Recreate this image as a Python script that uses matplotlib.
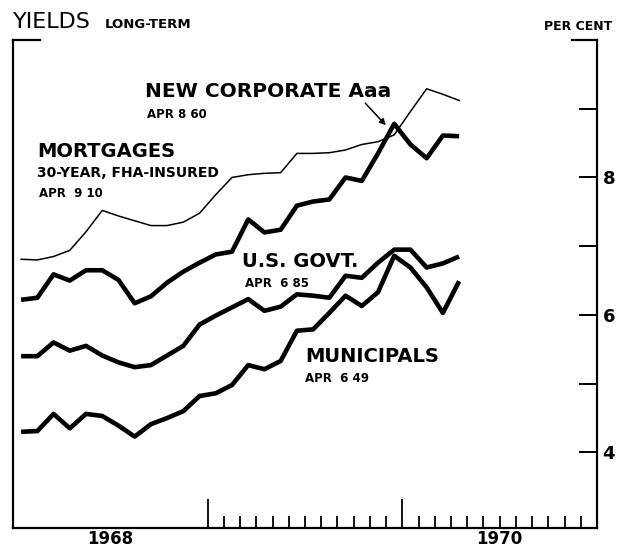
"""
Long-term yields, Jan 1968 - Apr 1970 (monthly)
"""
import numpy as np
import matplotlib
matplotlib.use('Agg')
import matplotlib.pyplot as plt

# ============================================================================
# DATA (per cent, monthly Jan 1968 .. Apr 1970)
# ============================================================================
mortgage = [6.81, 6.80, 6.85, 6.94, 7.21, 7.52, 7.44, 7.37, 7.30, 7.30, 7.35, 7.48,
            7.75, 8.00, 8.04, 8.06, 8.07, 8.35, 8.35, 8.36, 8.40, 8.48, 8.52, 8.62,
            8.96, 9.29, 9.21, 9.12]
corporate = [6.22, 6.25, 6.59, 6.50, 6.65, 6.65, 6.51, 6.17, 6.27, 6.47, 6.63, 6.76,
             6.88, 6.92, 7.39, 7.20, 7.24, 7.59, 7.65, 7.68, 8.00, 7.95, 8.35, 8.78,
             8.48, 8.28, 8.61, 8.60]
govt = [5.40, 5.40, 5.60, 5.48, 5.55, 5.41, 5.31, 5.24, 5.27, 5.41, 5.55, 5.86,
        5.99, 6.11, 6.23, 6.06, 6.12, 6.30, 6.28, 6.25, 6.57, 6.54, 6.76, 6.95,
        6.95, 6.69, 6.75, 6.85]
municipals = [4.30, 4.31, 4.56, 4.35, 4.56, 4.53, 4.39, 4.23, 4.41, 4.50, 4.60, 4.82,
              4.86, 4.98, 5.27, 5.21, 5.33, 5.77, 5.79, 6.03, 6.28, 6.13, 6.33, 6.86,
              6.69, 6.40, 6.03, 6.49]
years = ['1968', '1970']
year_pos = [5.5, 29.5]          # centre of each year span (months)
yticks = [4, 5, 6, 7, 8, 9]
ytick_labels = ['4', '', '6', '', '8', '']

months = np.arange(len(mortgage))

# ============================================================================
# FIGURE
# ============================================================================
fig = plt.figure(figsize=(6.29, 5.47), dpi=100)
ax = fig.add_axes([13 / 629, 1 - 528 / 547, 584 / 629, 488 / 547])
ax.set_xlim(-0.5, 35.5)
ax.set_ylim(2.9, 10.0)

ax.plot(months, mortgage, color='black', lw=1.1, solid_joinstyle='round')
for series in (corporate, govt, municipals):
    ax.plot(months, series, color='black', lw=3.3, solid_joinstyle='round',
            solid_capstyle='butt')

# spines / brackets
ax.spines['top'].set_visible(False)
for s in ('left', 'right', 'bottom'):
    ax.spines[s].set_linewidth(1.6)
ax.plot([0, 0.046], [1, 1], transform=ax.transAxes, color='black', lw=1.6, clip_on=False)
ax.plot([0.957, 1], [1, 1], transform=ax.transAxes, color='black', lw=1.6, clip_on=False)

# y axis on the right, inward ticks
ax.yaxis.tick_right()
ax.set_yticks(yticks)
ax.set_yticklabels(ytick_labels, fontsize=13, fontweight='bold')
ax.tick_params(axis='y', direction='in', length=13, width=1.4, pad=4)

# x axis: month ticks from 1969 on, longer at year starts
ax.set_xticks([11.5, 23.5])
ax.set_xticks([m + 0.5 for m in range(12, 35) if m != 23], minor=True)
ax.set_xticklabels([])
ax.tick_params(axis='x', which='major', direction='in', length=21, width=1.3)
ax.tick_params(axis='x', which='minor', direction='in', length=8.5, width=1.3)
for pos, yr in zip(year_pos, years):
    ax.text(pos, -0.005, yr, transform=ax.get_xaxis_transform(), ha='center', va='top',
            fontsize=12, fontweight='bold')

# ============================================================================
# LABELS
# ============================================================================
fig.text(13 / 629, 1 - 28 / 547, 'YIELDS', fontsize=16, va='baseline')
fig.text(105 / 629, 1 - 28 / 547, 'LONG-TERM', fontsize=9.5, fontweight='bold', va='baseline')
fig.text(612 / 629, 1 - 30 / 547, 'PER CENT', fontsize=9, fontweight='bold',
         va='baseline', ha='right')

kw = dict(fontweight='bold', va='baseline')
ax.text(7.64, 9.17, 'NEW CORPORATE Aaa', fontsize=14.5, **kw)
ax.text(7.76, 8.87, 'APR 8 60', fontsize=8.5, **kw)
ax.text(0.98, 8.30, 'MORTGAGES', fontsize=14, **kw)
ax.text(0.98, 8.00, '30-YEAR, FHA-INSURED', fontsize=10, **kw)
ax.text(1.10, 7.71, 'APR  9 10', fontsize=8.5, **kw)
ax.text(13.62, 6.70, 'U.S. GOVT.', fontsize=14, **kw)
ax.text(13.80, 6.41, 'APR  6 85', fontsize=8.5, **kw)
ax.text(17.50, 5.32, 'MUNICIPALS', fontsize=14, **kw)
ax.text(17.50, 5.02, 'APR  6 49', fontsize=8.5, **kw)

ax.annotate('', xy=(months[23] - 0.4, corporate[23] - 0.05), xytext=(21.1, 9.11),
            arrowprops=dict(arrowstyle='-|>', color='black', lw=1.1, mutation_scale=9))

fig.savefig('out.png', dpi=100)
